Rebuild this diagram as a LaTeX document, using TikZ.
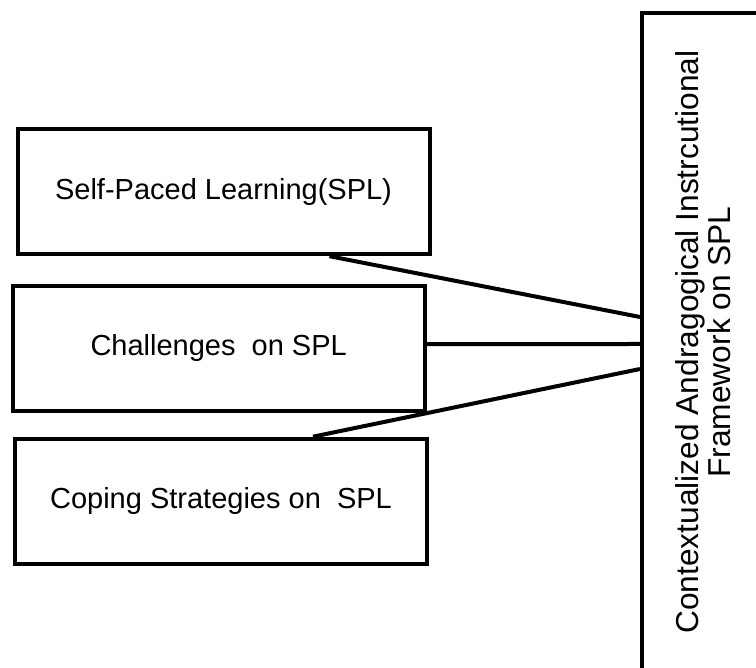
\documentclass[tikz,border=0pt]{standalone}
\usepackage{fontspec}
\setmainfont{Liberation Sans}
\usetikzlibrary{calc}

\begin{document}
\begin{tikzpicture}[x=1pt,y=1pt,line width=4pt,
   box/.style={draw,minimum width=412pt,minimum height=125pt,font=\fontsize{29}{35}\selectfont}]
   \useasboundingbox (0,0) rectangle (756,668);
   \clip (0,0) rectangle (756,668);
   \node[box] (spl) at (223.5,476.3) {Self-Paced Learning(SPL)};
   \node[box] (chal) at (218.7,319.8) {Challenges~ on SPL};
   \node[box] (cope) at (221,166.8) {Coping Strategies on~ SPL};
   \node[draw,rotate=90,align=center,minimum width=658pt,minimum height=122pt,
      font=\fontsize{31.7}{32}\selectfont] (frame) at (703,326)
      {Contextualized Andragogical Instrcutional\\Framework on SPL};
   \coordinate (f1) at ($(frame.north)+(0,25)$);
   \coordinate (f2) at ($(frame.north)+(0,-2)$);
   \coordinate (f3) at ($(frame.north)+(0,-27)$);
   \coordinate (s1) at ($(spl.south)+(106,0)$);
   \coordinate (s2) at ($(chal.east)+(0,4)$);
   \coordinate (s3) at ($(cope.north)+(92,0)$);
   \path (s1) edge (f1);
   \path (s2) edge (f2);
   \path (s3) edge (f3);

\end{tikzpicture}
\end{document}
